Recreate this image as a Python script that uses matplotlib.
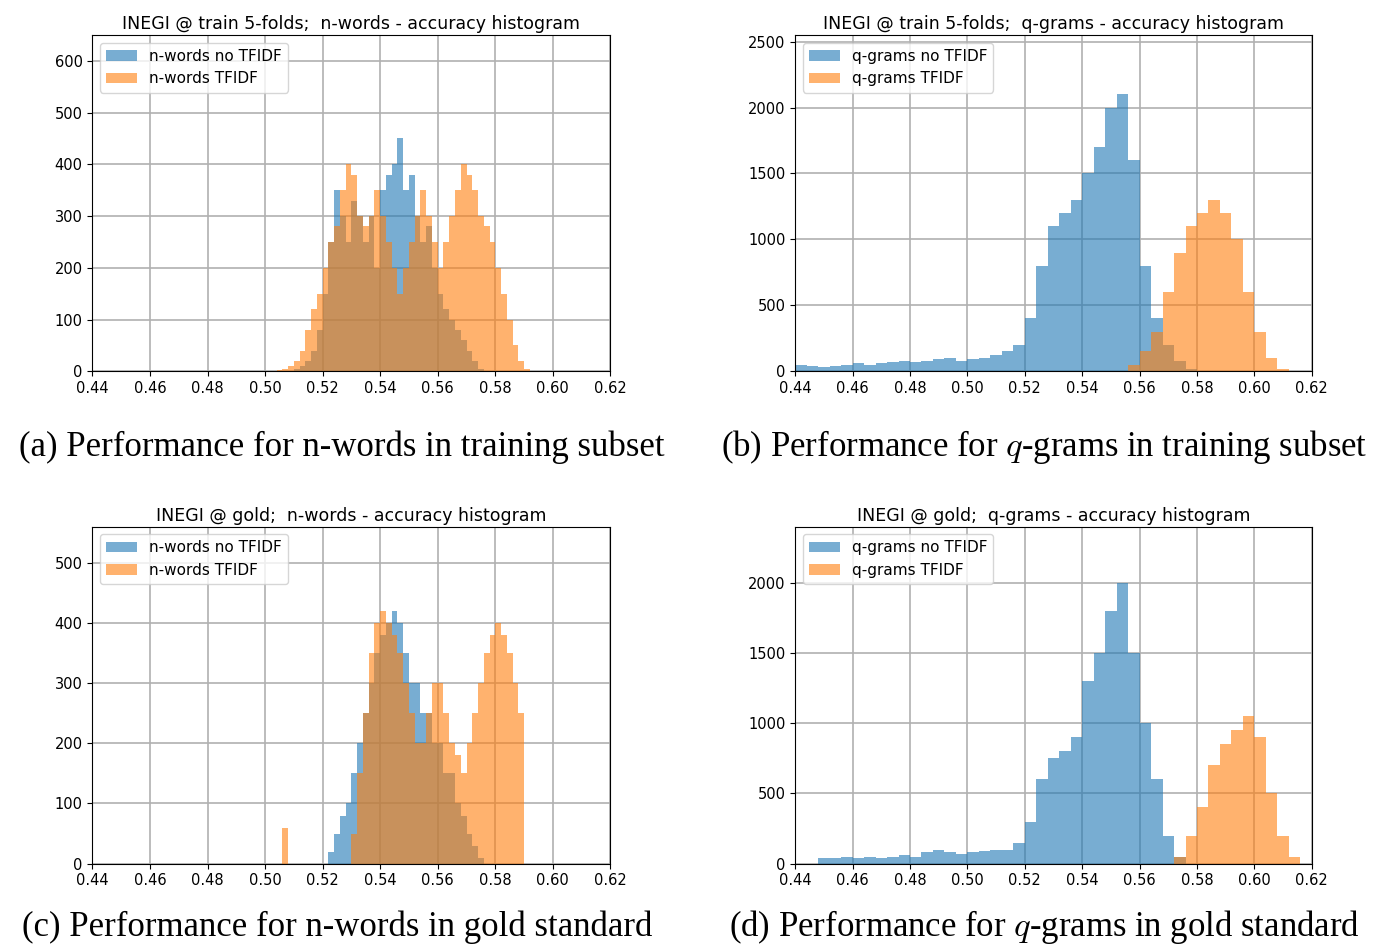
import matplotlib
matplotlib.use("Agg")
import matplotlib.pyplot as plt
import numpy as np

plt.rcParams['mathtext.fontset'] = 'cm'

# panel (a) n-words train
a_blue_start, a_blue_w = 0.510, 0.002
a_blue = [5,10,20,40,80,150,250,350,300,250,330,300,250,300,200,350,380,400,450,350,380,300,250,280,200,150,120,100,80,60,40,20,5]
a_or_start, a_or_w = 0.504, 0.002
a_or = [2,5,10,20,40,80,120,150,200,250,280,350,400,380,300,280,300,350,300,250,200,150,200,250,300,350,300,250,200,250,300,350,400,380,350,300,280,250,200,150,100,50,20,5]

# panel (b) q-grams train
b_blue_start, b_blue_w = 0.440, 0.004
b_blue = [50,40,30,40,50,60,50,60,70,80,70,80,90,100,80,90,100,120,150,200,400,800,1100,1200,1300,1500,1700,2000,2100,1600,800,400,200,80,20]
b_or_start, b_or_w = 0.556, 0.004
b_or = [50,150,300,600,900,1100,1200,1300,1200,1000,600,300,100,20]

# panel (c) n-words gold
c_blue_start, c_blue_w = 0.522, 0.002
c_blue = [20,50,80,100,150,200,250,300,350,380,400,420,400,350,300,300,250,250,200,200,150,150,100,80,50,30,10]
c_or_start, c_or_w = 0.504, 0.002
c_or = [0,60,0,0,0,0,0,0,0,0,0,0,0,50,150,250,350,400,420,400,380,350,300,250,200,200,250,300,300,250,200,180,150,200,250,300,350,380,400,380,350,300,250]

# panel (d) q-grams gold
d_blue_start, d_blue_w = 0.448, 0.004
d_blue = [40,40,50,40,50,40,50,60,50,80,100,80,70,80,90,100,100,150,300,600,750,800,900,1300,1500,1800,2000,1500,1000,600,200,50]
d_or_start, d_or_w = 0.572, 0.004
d_or = [50,200,400,700,850,950,1050,900,500,200,50]

panels = [
    ("INEGI @ train 5-folds;  n-words - accuracy histogram", "n-words", (a_blue_start,a_blue_w,a_blue), (a_or_start,a_or_w,a_or), [0.066,0.608,0.370,0.355], "(a) Performance for n-words in training subset", (0.244,0.528), 650, 100),
    ("INEGI @ train 5-folds;  q-grams - accuracy histogram", "q-grams", (b_blue_start,b_blue_w,b_blue), (b_or_start,b_or_w,b_or), [0.568,0.608,0.369,0.355], "(b) Performance for $q$-grams in training subset", (0.746,0.528), 2550, 500),
    ("INEGI @ gold;  n-words - accuracy histogram", "n-words", (c_blue_start,c_blue_w,c_blue), (c_or_start,c_or_w,c_or), [0.066,0.088,0.370,0.356], "(c) Performance for n-words in gold standard", (0.241,0.021), 560, 100),
    ("INEGI @ gold;  q-grams - accuracy histogram", "q-grams", (d_blue_start,d_blue_w,d_blue), (d_or_start,d_or_w,d_or), [0.568,0.088,0.369,0.356], "(d) Performance for $q$-grams in gold standard", (0.746,0.021), 2400, 500),
]

fig = plt.figure(figsize=(14, 9.47), dpi=100)
for title, name, blue, orange, pos, cap, cpos, ymax, ystep in panels:
    ax = fig.add_axes(pos)
    for (s, w, vals), col, lab in [(blue, 'tab:blue', f"{name} no TFIDF"), (orange, 'tab:orange', f"{name} TFIDF")]:
        edges = s + w*np.arange(len(vals)+1)
        centers = edges[:-1] + w/2
        ax.hist(centers, bins=edges, weights=vals, color=col, alpha=0.6, label=lab)
    ax.set_xlim(0.44, 0.62)
    ax.set_ylim(0, ymax)
    ax.set_yticks(np.arange(0, ymax, ystep))
    ax.set_xticks(np.arange(0.44, 0.6201, 0.02))
    ax.set_xticklabels([f"{v:.2f}" for v in np.arange(0.44, 0.6201, 0.02)])
    ax.grid(True, color='#b0b0b0', linewidth=1.2)
    ax.set_axisbelow(True)
    ax.tick_params(labelsize=10.5)
    ax.set_title(title, fontsize=12.5, pad=4)
    ax.legend(loc='upper left', fontsize=11)
    fig.text(cpos[0], cpos[1], cap, ha='center', va='center', fontsize=25, family='Liberation Serif')

fig.savefig("out.png", dpi=100)
